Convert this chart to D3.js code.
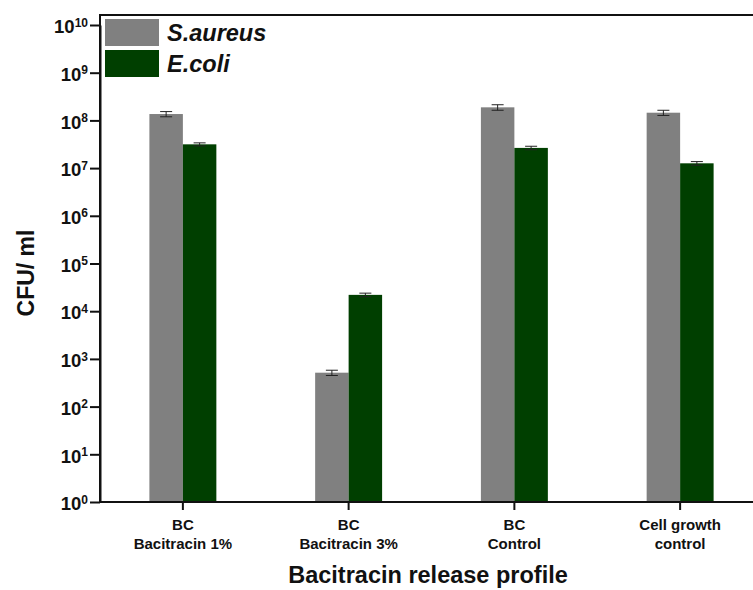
<!DOCTYPE html>
<html>
<head>
<meta charset="utf-8">
<script src="https://cdn.jsdelivr.net/npm/d3@7/dist/d3.min.js"></script>
<style>
  html, body { margin: 0; padding: 0; background: #fff; }
  svg { display: block; font-family: "Liberation Sans", Arial, Helvetica, sans-serif; }
</style>
</head>
<body>
<svg id="chart" width="753" height="590"></svg>
<script>
// Bacterial counts (CFU/ml) per treatment, two strains
const categories = [["BC", "Bacitracin 1%"], ["BC", "Bacitracin 3%"], ["BC", "Control"], ["Cell growth", "control"]];
const seriesNames = ["S.aureus", "E.coli"];
const saureus = [1.36e8, 514, 1.88e8, 1.45e8];
const saureusErr = [1.7e7, 65, 2.5e7, 1.8e7];
const ecoli = [3.15e7, 2.2e4, 2.65e7, 1.26e7];
const ecoliErr = [2.3e6, 1.9e3, 2.2e6, 1.1e6];
const yTicks = [0, 1, 2, 3, 4, 5, 6, 7, 8, 9, 10];
const colors = ["#808080", "#003f00"];

const svg = d3.select("#chart");
const mLeft = 100, mRight = 763, mTop = 15, mBottom = 502;

const catKeys = categories.map(c => c.join(" "));
const x = d3.scaleBand().domain(catKeys).range([mLeft, mRight])
  .paddingInner(0.596).paddingOuter(0.298);
const xs = d3.scaleBand().domain(seriesNames).range([0, x.bandwidth()]);
const y = d3.scaleLog().domain([1, 1e10]).range([mBottom, 25]);

const values = [saureus, ecoli];
const errs = [saureusErr, ecoliErr];

// Bars
seriesNames.forEach((s, si) => {
  svg.append("g").selectAll("rect")
    .data(catKeys.map((k, i) => ({ k, v: values[si][i], e: errs[si][i] })))
    .join("rect")
    .attr("x", d => x(d.k) + xs(s))
    .attr("width", xs.bandwidth())
    .attr("y", d => y(d.v))
    .attr("height", d => mBottom - y(d.v))
    .attr("fill", colors[si]);

  // Error bars
  const eg = svg.append("g").attr("stroke", "#222").attr("stroke-width", 1);
  catKeys.forEach((k, i) => {
    const cx = x(k) + xs(s) + xs.bandwidth() / 2;
    const v = values[si][i], e = errs[si][i];
    const y1 = y(v + e), y0 = y(v - e);
    eg.append("line").attr("x1", cx).attr("x2", cx).attr("y1", y1).attr("y2", y0);
    eg.append("line").attr("x1", cx - 6).attr("x2", cx + 6).attr("y1", y1).attr("y2", y1);
    eg.append("line").attr("x1", cx - 6).attr("x2", cx + 6).attr("y1", y0).attr("y2", y0);
  });
});

// Frame
svg.append("rect").attr("x", mLeft).attr("y", mTop)
  .attr("width", mRight - mLeft).attr("height", mBottom - mTop)
  .attr("fill", "none").attr("stroke", "#111").attr("stroke-width", 2);

// Y axis
const yAxis = d3.axisLeft(y).tickValues(yTicks.map(p => Math.pow(10, p)))
  .tickSizeInner(10).tickSizeOuter(0).tickFormat(() => "");
const gy = svg.append("g").attr("transform", `translate(${mLeft},0)`).call(yAxis);
gy.select(".domain").attr("stroke", "#111").attr("stroke-width", 2);
gy.selectAll(".tick line").attr("stroke", "#111").attr("stroke-width", 2);
gy.selectAll(".tick text").remove();
gy.selectAll(".tick").each(function(d) {
  const p = Math.round(Math.log10(d));
  const t = d3.select(this).append("text")
    .attr("x", -12).attr("dy", "0.42em")
    .attr("text-anchor", "end").attr("fill", "#111")
    .attr("font-weight", "bold").attr("font-size", 18.5);
  t.append("tspan").text("10");
  t.append("tspan").attr("dy", "-0.55em").attr("font-size", 12).text(p);
});

// X axis
const xAxis = d3.axisBottom(x).tickSizeInner(8).tickSizeOuter(0).tickFormat(() => "");
const gx = svg.append("g").attr("transform", `translate(0,${mBottom})`).call(xAxis);
gx.select(".domain").remove();
gx.selectAll(".tick line").attr("stroke", "#111").attr("stroke-width", 2);
gx.selectAll(".tick text").remove();
gx.selectAll(".tick").each(function(d, i) {
  const t = d3.select(this).append("text")
    .attr("text-anchor", "middle").attr("fill", "#111")
    .attr("font-weight", "bold").attr("font-size", 15);
  categories[i].forEach((line, li) => {
    t.append("tspan").attr("x", 0).attr("y", 28 + li * 19).text(line);
  });
});

// Axis titles
svg.append("text").attr("x", 428).attr("y", 583)
  .attr("text-anchor", "middle").attr("font-weight", "bold")
  .attr("font-size", 23.5).attr("fill", "#111").text("Bacitracin release profile");
svg.append("text").attr("transform", "translate(34,273) rotate(-90)")
  .attr("text-anchor", "middle").attr("font-weight", "bold")
  .attr("font-size", 23).attr("fill", "#111").text("CFU/ ml");

// Legend
const lg = svg.append("g");
seriesNames.forEach((s, i) => {
  lg.append("rect").attr("x", 105).attr("y", 19 + i * 31)
    .attr("width", 54).attr("height", 27).attr("fill", colors[i]);
  lg.append("text").attr("x", 167).attr("y", 41 + i * 31)
    .attr("font-weight", "bold").attr("font-style", "italic")
    .attr("font-size", 23.5).attr("fill", "#111").text(s);
});
</script>
</body>
</html>
